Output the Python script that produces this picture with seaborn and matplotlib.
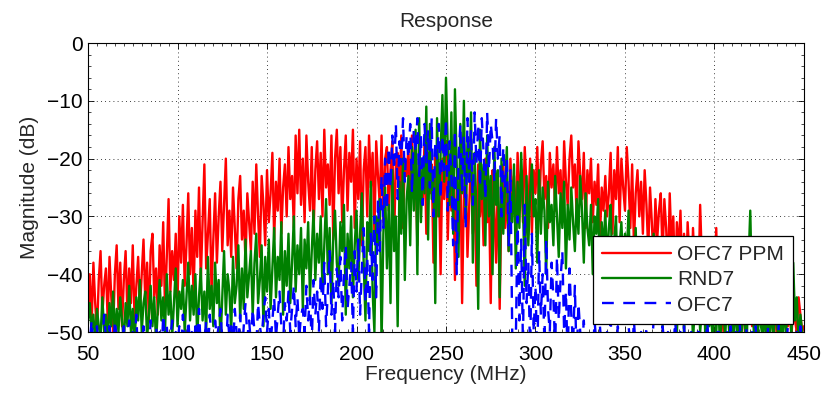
import numpy as np
import pandas as pd
import matplotlib
matplotlib.use("Agg")
import matplotlib.pyplot as plt
import seaborn as sns
from matplotlib.ticker import MultipleLocator

# Frequency grid (MHz), 1 MHz step from 50 to 450
freq = np.arange(50, 451)

ofc7_ppm = [
    -46, -40, -49, -38, -45, -50, -41, -36, -47, -42,
    -39, -48, -37, -44, -50, -40, -35, -46, -38, -49,
    -41, -36, -47, -39, -45, -35, -48, -42, -37, -46,
    -40, -34, -45, -38, -48, -36, -33, -44, -39, -47,
    -35, -42, -31, -46, -37, -27, -43, -36, -41, -33,
    -45, -30, -38, -28, -42, -35, -26, -40, -32, -44,
    -29, -37, -25, -41, -31, -21, -39, -33, -27, -43,
    -34, -26, -38, -30, -24, -36, -28, -20, -35, -29,
    -37, -25, -32, -39, -27, -23, -34, -29, -38, -26,
    -31, -36, -24, -33, -21, -30, -37, -23, -28, -35,
    -22, -31, -26, -19, -34, -24, -29, -20, -33, -25,
    -21, -30, -18, -27, -23, -32, -16, -26, -15, -28,
    -20, -31, -16, -24, -29, -18, -33, -22, -17, -27,
    -19, -30, -15, -25, -21, -28, -16, -34, -20, -15,
    -26, -18, -31, -22, -16, -29, -19, -24, -15, -32,
    -20, -27, -17, -35, -22, -18, -30, -16, -25, -19,
    -33, -17, -23, -28, -16, -31, -20, -18, -29, -22,
    -17, -34, -21, -19, -27, -16, -32, -20, -23, -18,
    -30, -16, -25, -21, -35, -18, -24, -28, -17, -33,
    -19, -26, -21, -38, -18, -30, -23, -40, -20, -27,
    -17, -34, -22, -29, -19, -41, -24, -31, -20, -45,
    -26, -22, -37, -28, -19, -33, -25, -42, -21, -30,
    -24, -35, -20, -31, -26, -45, -22, -29, -38, -23,
    -46, -27, -21, -32, -25, -36, -20, -28, -23, -34,
    -19, -27, -22, -31, -18, -25, -29, -20, -33, -22,
    -26, -18, -30, -21, -17, -27, -23, -32, -19, -25,
    -21, -29, -18, -26, -22, -31, -17, -24, -28, -20,
    -16, -25, -21, -30, -17, -23, -27, -19, -32, -22,
    -26, -20, -31, -24, -28, -21, -34, -25, -29, -23,
    -30, -26, -19, -33, -22, -27, -18, -31, -20, -25,
    -29, -18, -24, -32, -21, -35, -26, -22, -30, -24,
    -33, -22, -28, -36, -25, -31, -38, -27, -34, -29,
    -26, -37, -27, -32, -40, -26, -35, -30, -42, -31,
    -36, -29, -40, -33, -44, -31, -37, -45, -32, -39,
    -35, -42, -28, -38, -46, -34, -41, -48, -36, -44,
    -40, -32, -47, -37, -43, -50, -39, -45, -48, -41,
    -46, -49, -42, -50, -44, -47, -43, -50, -45, -48,
    -42, -49, -46, -50, -43, -48, -45, -51, -44, -49,
    -47, -50, -44, -49, -46, -52, -45, -48, -50, -47,
    -44, -49, -46, -51, -45, -48, -50, -44, -47, -50,
    -49,
]

rnd7 = [
    -48, -45, -50, -47, -52, -46, -49, -51, -44, -50,
    -47, -52, -45, -49, -43, -51, -46, -50, -44, -48,
    -52, -45, -49, -42, -50, -46, -53, -44, -48, -41,
    -50, -45, -43, -51, -47, -42, -49, -44, -52, -46,
    -41, -48, -44, -50, -40, -47, -43, -51, -45, -39,
    -49, -43, -46, -41, -50, -44, -38, -48, -42, -47,
    -40, -51, -44, -39, -48, -43, -50, -37, -46, -42,
    -49, -38, -45, -41, -52, -44, -36, -47, -40, -43,
    -50, -37, -45, -42, -35, -48, -39, -46, -34, -44,
    -40, -36, -47, -38, -33, -45, -41, -35, -49, -37,
    -43, -34, -46, -39, -32, -44, -37, -41, -31, -47,
    -36, -42, -33, -45, -38, -30, -43, -35, -40, -32,
    -46, -34, -39, -31, -44, -36, -29, -41, -33, -38,
    -30, -43, -35, -27, -40, -32, -45, -34, -29, -38,
    -42, -31, -36, -28, -47, -33, -39, -30, -44, -35,
    -29, -41, -33, -26, -38, -48, -31, -36, -24, -43,
    -50, -30, -35, -27, -52, -33, -25, -39, -28, -45,
    -22, -36, -30, -49, -24, -33, -20, -41, -27, -23,
    -35, -18, -29, -15, -40, -13, -31, -21, -26, -11,
    -34, -14, -27, -22, -45, -13, -30, -19, -9, -24,
    -6, -18, -28, -12, -33, -8, -21, -37, -14, -26,
    -10, -31, -17, -24, -12, -38, -19, -29, -46, -15,
    -27, -21, -35, -16, -30, -23, -40, -18, -28, -22,
    -44, -20, -33, -25, -18, -36, -26, -31, -21, -39,
    -24, -32, -19, -28, -42, -23, -35, -26, -21, -30,
    -27, -38, -22, -33, -25, -29, -40, -24, -31, -28,
    -35, -23, -30, -37, -26, -32, -24, -39, -28, -34,
    -25, -31, -36, -27, -33, -23, -29, -38, -26, -32,
    -35, -28, -40, -30, -33, -27, -42, -31, -36, -29,
    -38, -32, -28, -41, -34, -30, -44, -35, -31, -39,
    -33, -37, -29, -42, -35, -40, -32, -45, -36, -38,
    -41, -34, -47, -37, -39, -43, -33, -46, -38, -44,
    -36, -49, -40, -42, -34, -47, -39, -45, -37, -50,
    -43, -46, -38, -51, -41, -47, -44, -40, -52, -45,
    -48, -42, -50, -46, -39, -53, -44, -49, -47, -51,
    -45, -50, -43, -52, -48, -46, -51, -44, -49, -53,
    -47, -50, -45, -52, -48, -51, -46, -49, -53, -38,
    -29, -44, -50, -47, -52, -46, -49, -51, -45, -53,
    -48, -50, -46, -52, -44, -49, -51, -47, -53, -45,
    -50, -46, -42, -51, -38, -48, -44, -52, -47, -50,
    -51,
]

ofc7 = [
    -50, -52, -48, -53, -51, -49, -54, -50, -52, -47,
    -51, -53, -49, -52, -55, -48, -51, -53, -50, -52,
    -49, -54, -51, -48, -53, -50, -52, -47, -55, -51,
    -53, -49, -52, -50, -54, -48, -51, -53, -49, -52,
    -50, -55, -47, -52, -49, -53, -51, -48, -54, -50,
    -52, -49, -53, -47, -51, -54, -48, -52, -50, -53,
    -49, -51, -46, -53, -50, -52, -48, -54, -47, -51,
    -53, -48, -51, -49, -46, -52, -50, -54, -47, -51,
    -49, -53, -46, -50, -52, -47, -54, -49, -45, -51,
    -48, -52, -46, -50, -53, -45, -49, -51, -47, -44,
    -50, -46, -52, -48, -44, -51, -47, -43, -49, -52,
    -45, -48, -43, -50, -46, -42, -49, -44, -51, -47,
    -46, -50, -42, -48, -44, -52, -41, -47, -43, -50,
    -40, -46, -38, -49, -43, -36, -47, -41, -50, -39,
    -44, -37, -48, -40, -35, -46, -42, -38, -50, -36,
    -43, -34, -47, -39, -32, -45, -37, -50, -33, -41,
    -30, -44, -27, -36, -23, -32, -20, -29, -18, -25,
    -16, -22, -14, -27, -17, -21, -13, -24, -16, -20,
    -14, -26, -15, -19, -13, -23, -16, -28, -14, -21,
    -15, -25, -13, -30, -17, -20, -14, -27, -16, -22,
    -13, -29, -17, -23, -35, -15, -40, -20, -14, -26,
    -16, -32, -13, -24, -15, -28, -12, -21, -14, -25,
    -13, -19, -27, -12, -22, -14, -17, -24, -13, -20,
    -16, -30, -18, -25, -20, -35, -22, -50, -55, -52,
    -30, -48, -34, -52, -28, -45, -38, -54, -33, -50,
    -42, -55, -36, -47, -40, -52, -34, -46, -50, -38,
    -44, -53, -37, -48, -41, -36, -50, -43, -55, -39,
    -47, -52, -42, -55, -45, -50, -53, -48, -55, -51,
    -53, -50, -55, -48, -52, -54, -49, -53, -51, -55,
    -50, -53, -48, -54, -51, -55, -49, -52, -54, -50,
    -53, -55, -49, -52, -54, -48, -53, -51, -55, -50,
    -52, -54, -49, -55, -51, -53, -48, -52, -55, -50,
    -54, -49, -52, -55, -50, -53, -51, -54, -48, -52,
    -55, -50, -53, -49, -54, -52, -55, -50, -53, -51,
    -54, -49, -52, -55, -50, -53, -48, -54, -51, -55,
    -50, -53, -49, -52, -55, -51, -54, -50, -53, -49,
    -52, -55, -50, -54, -48, -53, -51, -55, -49, -52,
    -54, -50, -53, -49, -55, -51, -52, -54, -50, -53,
    -49, -55, -51, -53, -50, -54, -48, -52, -55, -50,
    -53, -49, -54, -51, -52, -55, -50, -53, -49, -54,
    -51,
]

series_names = ["OFC7 PPM", "RND7", "OFC7"]
colors = ["#ff0000", "#008000", "#0000ff"]
x_ticks = [50, 100, 150, 200, 250, 300, 350, 400, 450]
y_ticks = [0, -10, -20, -30, -40, -50]

sns.set_theme(style="white")
plt.rcParams["font.family"] = ["Liberation Sans", "DejaVu Sans"]
plt.rcParams["axes.unicode_minus"] = True

FS = 15

df = pd.DataFrame({
    "Frequency": np.tile(freq, 3),
    "Magnitude": np.concatenate([ofc7_ppm, rnd7, ofc7]).astype(float),
    "series": np.repeat(series_names, len(freq)),
})

fig = plt.figure(figsize=(8.25, 3.98), dpi=100)
ax = fig.add_axes([0.1067, 0.1658, 0.8678, 0.7261])

sns.lineplot(
    data=df, x="Frequency", y="Magnitude",
    hue="series", style="series",
    hue_order=series_names, style_order=series_names,
    palette=colors,
    dashes={"OFC7 PPM": "", "RND7": "", "OFC7": (5, 4)},
    linewidth=1.7, estimator=None, sort=False, ax=ax,
)

ax.set_xlim(50, 450)
ax.set_ylim(-50, 0)
ax.set_xticks(x_ticks)
ax.set_yticks(y_ticks)
ax.xaxis.set_minor_locator(MultipleLocator(5))
ax.yaxis.set_minor_locator(MultipleLocator(2))
ax.tick_params(which="both", direction="in", top=True, right=True,
               bottom=True, left=True, colors="black", labelsize=FS)
ax.tick_params(which="major", length=4, width=0.6)
ax.tick_params(which="minor", length=2, width=0.5)
ax.tick_params(axis="x", which="major", pad=9)
ax.tick_params(axis="y", which="major", pad=4)
ax.grid(True, which="major", linestyle=(0, (1, 4)), color="black", linewidth=0.6)
for s in ax.spines.values():
    s.set_color("black")
    s.set_linewidth(0.8)
    s.set_visible(True)

ax.set_xlabel("Frequency (MHz)", fontsize=FS, labelpad=1)
ax.set_ylabel("Magnitude (dB)", fontsize=FS, labelpad=6)
ax.set_title("Response", fontsize=FS, pad=11.5)

handles, labels = ax.get_legend_handles_labels()
for h in handles:
    h.set_linewidth(1.7)
leg = ax.legend(handles, labels, loc="lower right", bbox_to_anchor=(0.985, 0.028),
                borderaxespad=0, frameon=True, fancybox=False, framealpha=1,
                edgecolor="black", fontsize=FS, handlelength=3.3,
                handletextpad=0.3, labelspacing=0.3, borderpad=0.45)
leg.get_frame().set_linewidth(0.9)

fig.savefig("out.png", dpi=100)
